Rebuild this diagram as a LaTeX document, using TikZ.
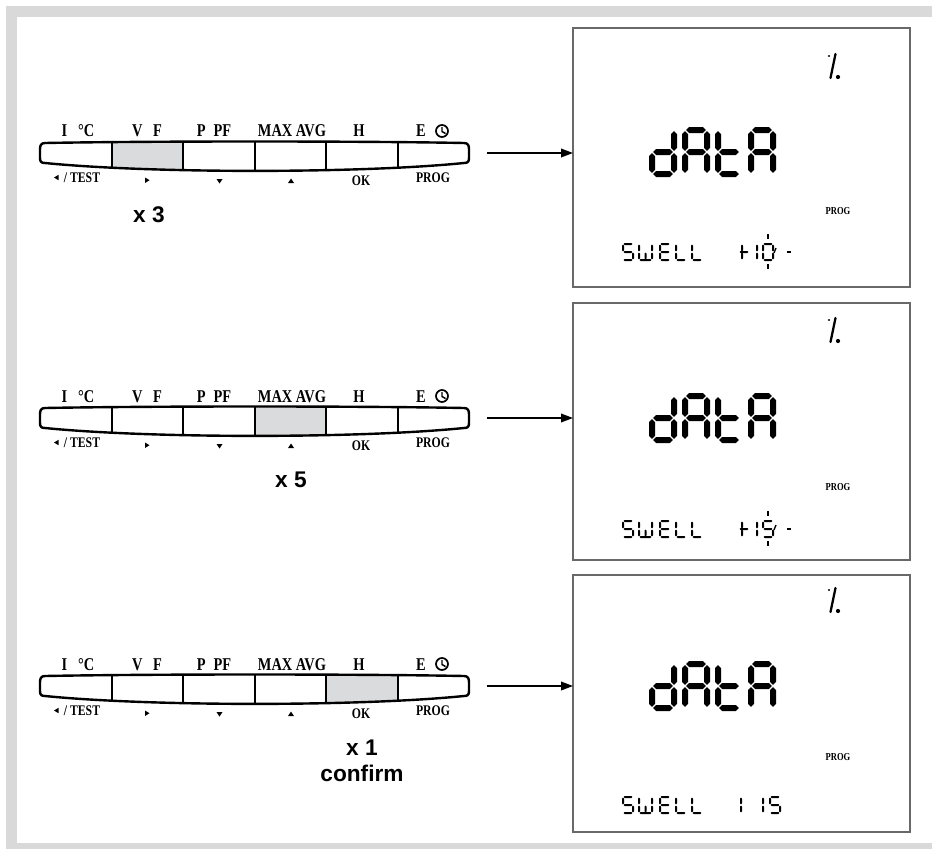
\documentclass[tikz,border=0pt]{standalone}
\usepackage{fontspec}
\setmainfont{Liberation Serif}
\newfontfamily\hvfont{Liberation Sans}
\newfontfamily\labfont[FakeStretch=0.8]{Liberation Serif}
\usetikzlibrary{arrows.meta}
\definecolor{framegray}{RGB}{217,217,217}
\definecolor{keygray}{RGB}{218,219,220}
\definecolor{panelgray}{RGB}{105,105,105}
% segment geometry parameters (centre-line box w x h, offset so, gap sgap, thickness st)
\def\sw{10}\def\sh{16}\def\sgap{0.7}\def\so{1}\def\st{2}
\newcommand\hseg[3]{\fill ({#1},{#3}) -- ({#1+\st/2},{#3-\st/2}) -- ({#2-\st/2},{#3-\st/2}) -- ({#2},{#3}) -- ({#2-\st/2},{#3+\st/2}) -- ({#1+\st/2},{#3+\st/2}) -- cycle;}
\newcommand\vseg[3]{\fill ({#3},{#1}) -- ({#3+\st/2},{#1+\st/2}) -- ({#3+\st/2},{#2-\st/2}) -- ({#3},{#2}) -- ({#3-\st/2},{#2-\st/2}) -- ({#3-\st/2},{#1+\st/2}) -- cycle;}
\newcommand\segA{\hseg{\so+\sgap}{\so+\sw-\sgap}{\so}}
\newcommand\segB{\vseg{\so+\sgap}{\so+\sh/2-\sgap}{\so+\sw}}
\newcommand\segC{\vseg{\so+\sh/2+\sgap}{\so+\sh-\sgap}{\so+\sw}}
\newcommand\segD{\hseg{\so+\sgap}{\so+\sw-\sgap}{\so+\sh}}
\newcommand\segE{\vseg{\so+\sh/2+\sgap}{\so+\sh-\sgap}{\so}}
\newcommand\segF{\vseg{\so+\sgap}{\so+\sh/2-\sgap}{\so}}
\newcommand\segG{\hseg{\so+\sgap}{\so+\sw-\sgap}{\so+\sh/2}}
\newcommand\segM{\vseg{\so+\sh/2+\sgap}{\so+\sh-\sgap}{\so+\sw/2}}
\newcommand\bigch[3]{\begin{scope}[shift={(#1,#2)}]
  \def\sw{22}\def\sh{44}\def\sgap{1.1}\def\so{3}\def\st{6}#3\end{scope}}
\newcommand\smch[3]{\begin{scope}[shift={(#1,#2)}]#3\end{scope}}
\newcommand\smwide[3]{\begin{scope}[shift={(#1,#2)}]\def\sw{13}#3\end{scope}}
% dAtA
\newcommand\dataword[1]{%
  \bigch{649}{#1}{\segB\segC\segD\segE\segG}%
  \bigch{682}{#1}{\segA\segB\segC\segE\segF\segG}%
  \bigch{715}{#1}{\segD\segE\segF\segG}%
  \bigch{748}{#1}{\segA\segB\segC\segE\segF\segG}}
\newcommand\swellword[1]{%
  \smch{622}{#1}{\segA\segF\segG\segC\segD}%
  \smwide{638}{#1}{\segF\segE\segB\segC\segM\segD}%
  \smch{659}{#1}{\segA\segF\segG\segE\segD}%
  \smch{675}{#1}{\segF\segE\segD}%
  \smch{691}{#1}{\segF\segE\segD}}
\newcommand\pctsym[2]{%
  \draw[line width=1.7pt,line cap=round] (#1+2.5,#2-12) -- (#1-2.5,#2+12);
  \fill (#1-4,#2-10) circle (1.2);
  \fill (#1+5,#2+11) circle (2.1);}
\newcommand\blinkmarks[2]{% x centre of digit, top y
  \begin{scope}[line width=1pt]
  \draw (#1,#2-9) -- (#1,#2-4);
  \draw (#1,#2+21) -- (#1,#2+26);
  \draw (#1+8,#2+5) -- (#1+6,#2+10);
  \draw (#1+19,#2+9) -- (#1+23,#2+9);
  \end{scope}}
\newcommand\padpath[1]{#1 (45,143) .. controls (150,141) and (360,141) .. (464,143)
  .. controls (467.5,143) and (469,145) .. (469,149) -- (469,158)
  .. controls (469,162) and (467.5,163) .. (464,163)
  .. controls (360,173.5) and (150,173.5) .. (45,163)
  .. controls (41.5,163) and (40,162) .. (40,158) -- (40,149)
  .. controls (40,145) and (41.5,143) .. (45,143) -- cycle;}
\newcommand\keypad[4]{% y offset, highlight x1, x2, name suffix
  \begin{scope}[shift={(0,#1)}]
   \begin{scope}
    \padpath{\clip}
    \fill[keygray] (#2,120) rectangle (#3,190);
    \foreach \xx in {112,183,255,326,398} \draw[line width=1.5pt] (\xx,120) -- (\xx,190);
   \end{scope}
   \padpath{\draw[line width=1.8pt,line join=round]}
   \node[toplab] (tI#4) at (78,137) {I\hspace{0.6em}°C};
   \node[toplab] (tV#4) at (147,137) {V\hspace{0.6em}F};
   \node[toplab] (tP#4) at (214,137) {P\hspace{0.45em}PF};
   \node[toplab] (tM#4) at (292,137) {MAX AVG};
   \node[toplab] (tH#4) at (359,137) {H};
   \node[toplab] (tE#4) at (421,137) {E};
   \draw[line width=1.3pt] (442,131) circle (6);
   \draw[line width=1.1pt] (442,127) -- (442,131.5) -- (445.5,133.5);
   \fill (54,177.5) -- (58.5,174.8) -- (58.5,180.2) -- cycle;
   \node[botlab] (bT#4) at (82,182) {/ TEST};
   \fill (145,177.5) -- (149.5,180.2) -- (145,183) -- cycle;
   \fill (216.5,179) -- (222.5,179) -- (219.5,183.5) -- cycle;
   \fill (288,183) -- (294,183) -- (291,178.5) -- cycle;
   \node[botlab] (bO#4) at (361,185) {OK};
   \node[botlab] (bG#4) at (433,182) {PROG};
   \coordinate (a#4) at (487,153);
  \end{scope}}
\begin{document}
\begin{tikzpicture}[x=0.75pt,y=-0.75pt,
  toplab/.style={font=\labfont\bfseries\fontsize{13.5}{13.5}\selectfont,inner sep=0,anchor=base},
  botlab/.style={font=\labfont\bfseries\fontsize{11}{11}\selectfont,inner sep=0,anchor=base},
  cnt/.style={font=\hvfont\bfseries\fontsize{17}{17}\selectfont,inner sep=0,anchor=base},
  panel/.style={draw=panelgray,line width=1.4pt,fill=white,inner sep=0,outer sep=0,minimum width=252.75pt},
  proglab/.style={font=\labfont\bfseries\fontsize{8}{8}\selectfont,inner sep=0,anchor=base},
  arr/.style={line width=1.1pt,-{Triangle[length=9pt,width=6.5pt]}}]
\useasboundingbox (0,0) rectangle (932,849);
\fill[framegray] (6,6) rectangle (932,849);
\fill[white] (17,17) rectangle (932,843);
% keypads
\keypad{0}{112}{183}{1}
\keypad{265}{255}{326}{2}
\keypad{533}{326}{398}{3}
\node[cnt] (x3) at (149,222) {x 3};
\node[cnt] (x5) at (291,487) {x 5};
\node[cnt] (x1) at (362,755) {x 1};
\node[cnt] (cf) at (362,781) {confirm};
% panels
\node[panel,minimum height=194.25pt] (p1) at (741.5,157.5) {};
\node[panel,minimum height=192.75pt] (p2) at (741.5,431.5) {};
\node[panel,minimum height=192.75pt] (p3) at (741.5,703.5) {};
\draw[arr] (a1) -- (a1 -| p1.west);
\draw[arr] (a2) -- (a2 -| p2.west);
\draw[arr] (a3) -- (a3 -| p3.west);
% panel 1
\pctsym{833}{66}
\dataword{127}
\node[proglab] (g1) at (838,214.5) {PROG};
\swellword{243}
\smch{731}{243}{\segB\segC}
\smch{738}{243}{\segG}
\smch{746}{243}{\segB\segC}
\smch{762}{243}{\segA\segB\segC\segD\segE\segF}
\blinkmarks{768}{243}
% panel 2
\pctsym{833}{330}
\dataword{393}
\node[proglab] (g2) at (838,490.5) {PROG};
\swellword{520}
\smch{731}{520}{\segB\segC}
\smch{738}{520}{\segG}
\smch{746}{520}{\segB\segC}
\smch{762}{520}{\segA\segF\segG\segC\segD}
\blinkmarks{768}{520}
% panel 3
\pctsym{833}{600}
\dataword{661}
\node[proglab] (g3) at (838,760.5) {PROG};
\swellword{796}
\smch{730}{796}{\segB\segC}
\smch{752}{796}{\segB\segC}
\smch{769}{796}{\segA\segF\segG\segC\segD}
\end{tikzpicture}
\end{document}
